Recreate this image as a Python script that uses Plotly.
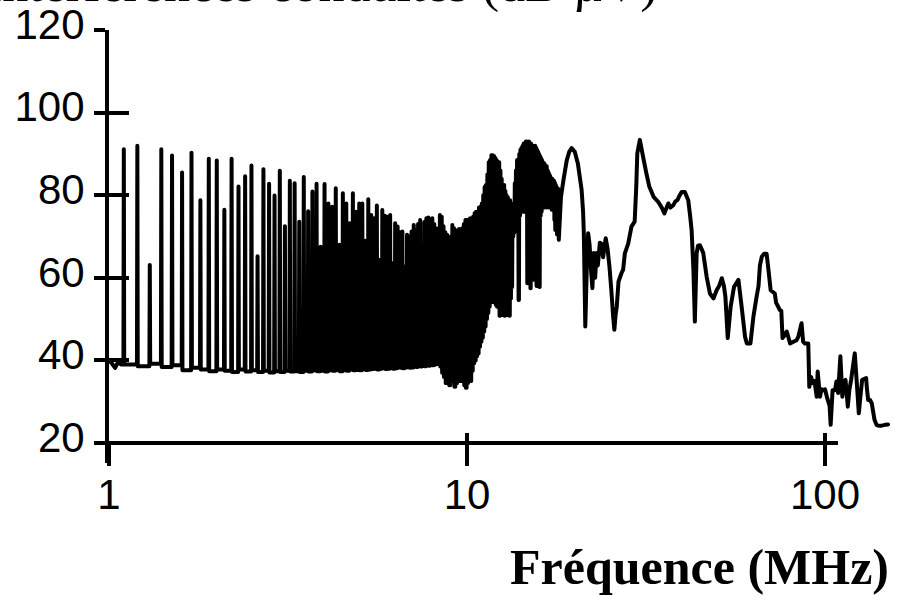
import plotly.graph_objects as go

# ---------------- data ----------------
# start of the trace, below the first harmonic
head_freqs = [1.0, 1.02, 1.04, 1.06, 1.08]
head_levels = [40.0, 39.2, 38.2, 39.6, 39.0]

# 100 kHz harmonic comb, 1.1 .. 18.0 MHz
comb_freqs = [
    1.1, 1.2, 1.3, 1.4, 1.5, 1.6, 1.7, 1.8, 1.9, 2.0,
    2.1, 2.2, 2.3, 2.4, 2.5, 2.6, 2.7, 2.8, 2.9, 3.0,
    3.1, 3.2, 3.3, 3.4, 3.5, 3.6, 3.7, 3.8, 3.9, 4.0,
    4.1, 4.2, 4.3, 4.4, 4.5, 4.6, 4.7, 4.8, 4.9, 5.0,
    5.1, 5.2, 5.3, 5.4, 5.5, 5.6, 5.7, 5.8, 5.9, 6.0,
    6.1, 6.2, 6.3, 6.4, 6.5, 6.6, 6.7, 6.8, 6.9, 7.0,
    7.1, 7.2, 7.3, 7.4, 7.5, 7.6, 7.7, 7.8, 7.9, 8.0,
    8.1, 8.2, 8.3, 8.4, 8.5, 8.6, 8.7, 8.8, 8.9, 9.0,
    9.1, 9.2, 9.3, 9.4, 9.5, 9.6, 9.7, 9.8, 9.9, 10.0,
    10.1, 10.2, 10.3, 10.4, 10.5, 10.6, 10.7, 10.8, 10.9, 11.0,
    11.1, 11.2, 11.3, 11.4, 11.5, 11.6, 11.7, 11.8, 11.9, 12.0,
    12.1, 12.2, 12.3, 12.4, 12.5, 12.6, 12.7, 12.8, 12.9, 13.0,
    13.1, 13.2, 13.3, 13.4, 13.5, 13.6, 13.7, 13.8, 13.9, 14.0,
    14.1, 14.2, 14.3, 14.4, 14.5, 14.6, 14.7, 14.8, 14.9, 15.0,
    15.1, 15.2, 15.3, 15.4, 15.5, 15.6, 15.7, 15.8, 15.9, 16.0,
    16.1, 16.2, 16.3, 16.4, 16.5, 16.6, 16.7, 16.8, 16.9, 17.0,
    17.1, 17.2, 17.3, 17.4, 17.5, 17.6, 17.7, 17.8, 17.9, 18.0,
]
comb_peaks = [
    91.1, 92.0, 63.1, 91.1, 89.6, 85.5, 90.3, 78.8, 88.8, 88.4,
    76.5, 88.8, 82.1, 84.6, 87.2, 65.2, 86.3, 82.8, 79.9, 85.9,
    72.5, 83.5, 82.9, 73.6, 84.4, 76.1, 80.9, 82.8, 67.5, 82.7,
    78.0, 77.2, 81.7, 68.0, 80.5, 78.0, 73.2, 80.5, 76.0, 78.0,
    78.0, 69.0, 79.0, 75.2, 74.4, 77.5, 64.3, 76.4, 75.0, 74.8,
    75.2, 63.5, 73.2, 72.4, 71.0, 71.2, 62.7, 70.4, 70.0, 71.2,
    72.8, 71.5, 73.0, 74.0, 64.7, 73.5, 74.4, 74.6, 74.2, 74.4,
    73.0, 72.0, 70.8, 75.2, 74.8, 72.5, 71.0, 70.4, 69.0, 70.0,
    72.8, 72.0, 66.3, 71.5, 71.8, 71.0, 72.0, 73.0, 74.0, 74.0,
    74.0, 74.4, 73.0, 74.8, 75.6, 76.0, 75.5, 77.0, 77.2, 78.0,
    80.0, 82.0, 82.5, 85.0, 88.0, 88.5, 89.7, 89.7, 89.5, 89.0,
    88.5, 88.1, 88.0, 86.0, 84.0, 82.5, 82.5, 81.0, 80.0, 79.5,
    78.8, 78.8, 78.0, 76.0, 74.0, 82.9, 86.0, 88.5, 88.5, 90.0,
    91.0, 91.5, 92.0, 92.5, 92.5, 93.0, 93.0, 92.8, 93.0, 92.5,
    92.5, 92.0, 92.0, 91.8, 92.0, 91.5, 91.0, 90.5, 90.0, 89.5,
    89.0, 88.5, 88.0, 87.8, 87.5, 87.0, 87.0, 86.0, 85.5, 85.0,
    84.5, 84.0, 84.0, 83.7, 83.5, 83.0, 82.5, 82.0, 81.7, 81.5,
]
comb_floors = [
    39.0, 38.6, 39.2, 38.4, 38.8, 37.6, 38.2, 37.8, 37.4, 37.8,
    37.5, 37.2, 37.8, 37.3, 37.6, 37.2, 37.5, 37.1, 37.4, 37.2,
    37.5, 37.3, 37.4, 37.2, 37.5, 37.3, 37.6, 37.4, 37.5, 37.3,
    37.6, 37.5, 37.7, 37.4, 37.6, 37.5, 37.8, 37.6, 37.7, 37.6,
    37.9, 37.7, 37.8, 37.9, 38.0, 37.8, 38.0, 38.1, 37.9, 38.0,
    38.2, 38.0, 38.1, 38.3, 38.2, 38.1, 38.3, 38.4, 38.2, 38.3,
    38.5, 38.4, 38.6, 38.5, 38.7, 38.6, 38.8, 38.7, 38.9, 38.8,
    39.0, 39.1, 39.2, 38.5, 37.0, 36.0, 34.5, 35.2, 34.0, 36.0,
    35.0, 33.6, 34.5, 36.5, 35.0, 36.9, 35.0, 34.0, 33.4, 34.5,
    36.5, 35.0, 37.5, 39.3, 40.0, 41.0, 41.7, 43.3, 44.5, 45.5,
    47.0, 48.2, 50.0, 51.5, 53.0, 54.0, 54.6, 54.5, 54.0, 53.5,
    53.0, 55.0, 50.8, 56.0, 51.0, 55.0, 50.8, 56.0, 51.0, 55.0,
    50.8, 55.0, 57.8, 70.0, 71.0, 72.0, 73.0, 74.0, 54.6, 75.0,
    76.0, 76.0, 77.0, 76.0, 76.0, 77.0, 58.7, 77.0, 76.0, 57.5,
    77.0, 76.0, 59.5, 77.0, 76.0, 58.0, 77.0, 76.0, 57.8, 75.0,
    76.0, 77.0, 77.2, 77.0, 77.5, 77.0, 77.2, 77.0, 77.5, 77.0,
    77.2, 76.5, 77.0, 77.2, 74.0, 71.6, 72.0, 70.5, 71.0, 69.2,
]

# continuous part of the spectrum above 18 MHz
tail_freqs = [
    18.3, 18.6, 19.0, 19.3, 19.6, 20.0, 20.4, 20.9, 21.1, 21.2,
    21.4, 21.6, 21.8, 22.0, 22.2, 22.4, 22.6, 22.8, 23.0, 23.2,
    23.5, 23.7, 24.0, 24.4, 24.7, 25.0, 25.3, 25.6, 25.8, 26.0,
    26.2, 26.5, 27.0, 27.3, 27.6, 28.2, 28.8, 29.4, 29.7, 29.9,
    30.4, 30.9, 31.7, 32.3, 33.2, 34.2, 35.0, 35.6, 36.1, 36.5,
    37.0, 37.7, 38.2, 38.7, 39.3, 39.8, 40.6, 41.5, 42.0, 42.4,
    42.9, 43.3, 43.8, 44.2, 44.7, 45.2, 45.7, 46.7, 47.7, 48.8,
    49.8, 50.6, 51.5, 52.2, 52.7, 53.5, 54.5, 55.7, 57.3, 58.5,
    59.8, 60.5, 61.9, 63.1, 64.4, 65.2, 65.8, 66.6, 67.6, 68.7,
    69.5, 70.5, 72.4, 73.0, 74.8, 75.5, 76.1, 77.0, 78.2, 79.9,
    81.6, 83.3, 84.2, 86.0, 86.9, 87.9, 89.8, 90.4, 91.4, 92.5,
    93.5, 94.8, 95.4, 96.8, 97.8, 98.9, 100.0, 101.5, 103.0, 103.7,
    105.0, 106.7, 107.6, 108.8, 110.4, 111.8, 113.0, 114.1, 115.8, 117.0,
    118.3, 121.1, 122.7, 124.3, 125.5, 127.0, 130.3, 131.0, 132.0, 133.6,
    135.1, 137.5, 139.3, 141.0, 144.1, 147.0, 150.0,
]
tail_levels = [
    79.6, 83.7, 88.5, 90.5, 91.4, 90.5, 87.7, 81.3, 76.0, 70.8,
    48.2, 61.9, 70.8, 68.0, 62.0, 57.5, 66.0, 60.0, 66.0, 63.0,
    68.5, 68.3, 65.0, 69.6, 67.0, 62.7, 57.0, 50.6, 47.4, 51.0,
    53.0, 59.1, 61.1, 62.0, 65.9, 68.3, 72.4, 73.6, 82.0, 90.1,
    93.4, 90.1, 85.3, 82.1, 79.6, 78.4, 77.0, 75.6, 77.0, 78.0,
    77.0, 77.6, 78.5, 78.8, 80.0, 80.8, 80.8, 78.8, 75.0, 71.6,
    61.9, 49.4, 66.0, 67.8, 67.9, 67.0, 66.0, 60.3, 56.2, 55.0,
    57.0, 58.0, 59.9, 58.0, 55.4, 45.4, 53.0, 57.8, 59.5, 53.0,
    45.7, 44.1, 44.1, 50.6, 55.4, 58.0, 63.0, 65.1, 65.8, 65.8,
    62.0, 57.0, 56.2, 54.0, 52.2, 52.0, 45.4, 46.0, 47.0, 44.1,
    44.5, 44.9, 45.7, 49.0, 44.5, 44.1, 44.1, 33.6, 36.0, 34.5,
    35.0, 31.2, 37.3, 31.2, 33.0, 32.8, 33.0, 30.8, 29.0, 24.4,
    32.8, 32.8, 34.9, 32.1, 41.0, 31.2, 34.0, 35.3, 28.8, 33.0,
    35.3, 41.7, 34.5, 27.2, 31.0, 35.3, 35.7, 33.0, 30.4, 30.4,
    29.6, 25.6, 24.4, 24.2, 24.2, 24.4, 24.5,
]

y_ticks = [20, 40, 60, 80, 100, 120]
x_ticks = [1, 10, 100]
x_ticktext = ["1", "10", "100"]

title_text = "Interférences conduites (dB µV)"
xlabel_text = "Fréquence (MHz)"

# ---------------- build the trace ----------------
SPIKE_REL_HALF_WIDTH = 0.0025  # style: half-width of each harmonic line
xs = list(head_freqs)
ys = list(head_levels)
prev_floor = head_levels[-1]
for f, pk, fl in zip(comb_freqs, comb_peaks, comb_floors):
    hw = f * SPIKE_REL_HALF_WIDTH
    xs += [f - hw, f, f + hw]
    ys += [prev_floor, pk, fl]
    prev_floor = fl
xs += tail_freqs
ys += tail_levels

# ---------------- layout geometry ----------------
W, H = 898, 595
ML, MR, MT, MB = 109, 3, 30, 132
plot_w = W - ML - MR
plot_h = H - MT - MB
px_per_decade = 358.0
x_full_max = plot_w / px_per_decade          # log10 range of data axis
axis_end_px = 838 - ML                       # drawn x axis line length
x_axis_max = axis_end_px / px_per_decade
y_top = 120.0
px_per_db = 82.6 / 20.0
y_bottom = y_top - plot_h / px_per_db
x_axis_pos = (20 - y_bottom) / (y_top - y_bottom)

tick_font = dict(family="Liberation Sans, Arial, sans-serif", size=42, color="black")
LW = 4
AW = 4

fig = go.Figure()
fig.add_trace(go.Scatter(
    x=xs, y=ys, mode="lines",
    line=dict(color="black", width=LW, simplify=False),
    showlegend=False, hoverinfo="skip", xaxis="x", yaxis="y",
))
# empty carriers so the decoration axes are drawn
fig.add_trace(go.Scatter(x=[], y=[], xaxis="x", yaxis="y2", showlegend=False))
fig.add_trace(go.Scatter(x=[], y=[], xaxis="x2", yaxis="y", showlegend=False))
fig.add_trace(go.Scatter(x=[], y=[], xaxis="x3", yaxis="y", showlegend=False))

fig.update_layout(
    width=W, height=H,
    margin=dict(l=ML, r=MR, t=MT, b=MB, pad=0),
    paper_bgcolor="white", plot_bgcolor="rgba(0,0,0,0)",
    showlegend=False,
    xaxis=dict(type="log", range=[0, x_full_max], domain=[0, 1],
               visible=False, fixedrange=True),
    yaxis=dict(range=[y_bottom, y_top], tickvals=y_ticks,
               ticks="outside", ticklen=11, tickwidth=AW, tickcolor="black",
               showline=True, linewidth=AW, linecolor="black",
               showgrid=False, zeroline=False, tickfont=tick_font,
               ticklabelstandoff=1, ticklabelshift=-6,
               anchor="x", automargin=False),
    yaxis2=dict(range=[y_bottom, y_top], tickvals=y_ticks, overlaying="y",
                side="left", anchor="x",
                ticks="inside", ticklen=20, tickwidth=AW, tickcolor="black",
                showticklabels=False, showline=False, showgrid=False,
                zeroline=False),
    xaxis2=dict(type="log", range=[0, x_axis_max],
                domain=[0, axis_end_px / plot_w],
                anchor="free", position=x_axis_pos,
                tickvals=x_ticks, ticktext=x_ticktext,
                ticks="outside", ticklen=21, tickwidth=AW, tickcolor="black",
                showline=True, linewidth=AW, linecolor="black",
                showgrid=False, zeroline=False, tickfont=tick_font,
                ticklabelstandoff=-7, automargin=False),
    xaxis3=dict(type="log", range=[0, x_axis_max], overlaying="x2",
                anchor="free", position=x_axis_pos,
                tickvals=x_ticks,
                ticks="inside", ticklen=10, tickwidth=AW, tickcolor="black",
                showticklabels=False, showline=False, showgrid=False,
                zeroline=False),
)

def px_to_paper_x(px):
    return (px - ML) / plot_w

def px_to_paper_y(py):
    return (MT + plot_h - py) / plot_h

fig.add_annotation(
    text=title_text, xref="paper", yref="paper",
    x=px_to_paper_x(-17), y=px_to_paper_y(15),
    xanchor="left", yanchor="bottom", showarrow=False,
    font=dict(family="Liberation Serif, Times New Roman, serif", size=52, color="black"),
)
fig.add_annotation(
    text="<b>" + xlabel_text + "</b>", xref="paper", yref="paper",
    x=px_to_paper_x(891), y=px_to_paper_y(597),
    xanchor="right", yanchor="bottom", showarrow=False,
    font=dict(family="Liberation Serif, Times New Roman, serif", size=50, color="black"),
)

fig.write_html(
    "out.html",
    config={"displayModeBar": False},
    post_script=(
        "document.body.style.margin='0px';"
        "document.body.style.overflow='hidden';"
        "document.querySelectorAll('path.js-line').forEach(function(p){"
        "p.style.strokeLinejoin='round';p.style.strokeLinecap='round';});"
    ),
)
